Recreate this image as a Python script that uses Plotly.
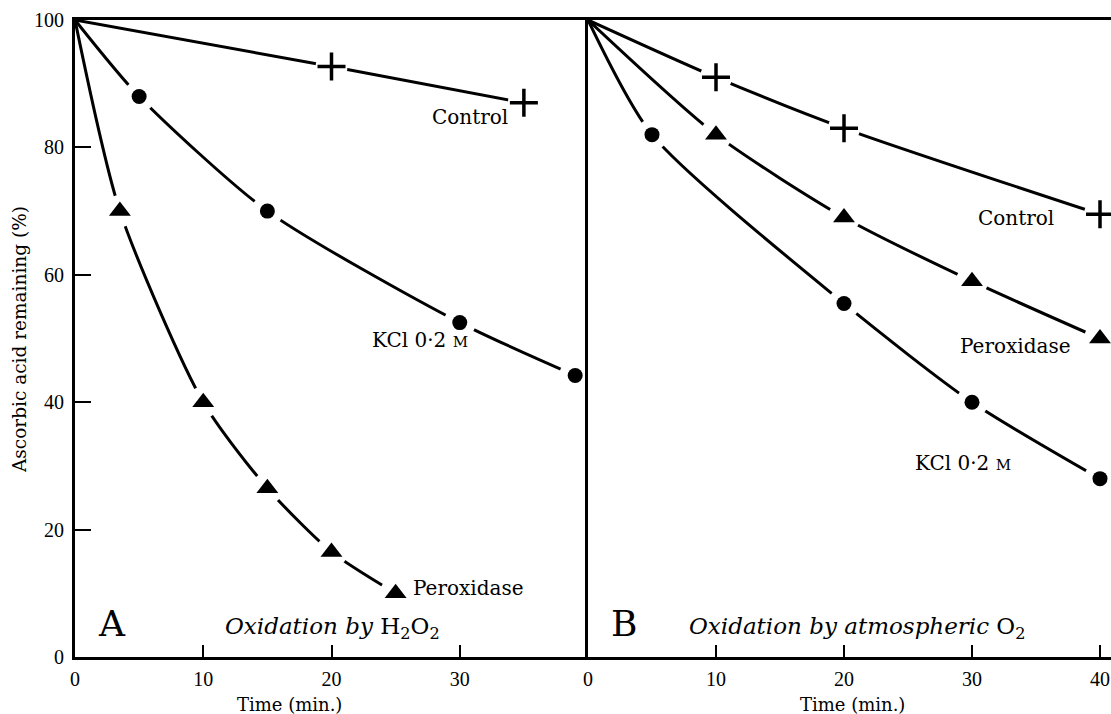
import plotly.graph_objects as go

# ---- Data ----
# Panel A: oxidation by H2O2
a_control_t = [0, 20, 35]
a_control_v = [100, 92.7, 87]
a_kcl_t = [0, 5, 15, 30, 39]
a_kcl_v = [100, 88, 70, 52.5, 44.2]
a_perox_t = [0, 3.5, 10, 15, 20, 25]
a_perox_v = [100, 70, 40, 26.5, 16.5, 10]

# Panel B: oxidation by atmospheric O2
b_control_t = [0, 10, 20, 40]
b_control_v = [100, 91, 83, 69.5]
b_perox_t = [0, 10, 20, 30, 40]
b_perox_v = [100, 82, 69, 59, 50]
b_kcl_t = [0, 5, 20, 30, 40]
b_kcl_v = [100, 82, 55.5, 40, 28]

y_ticks = [0, 20, 40, 60, 80, 100]
a_x_ticks = [0, 10, 20, 30]
b_x_ticks = [0, 10, 20, 30, 40]

SERIF = "DejaVu Serif"
TICKFONT = dict(family="Liberation Serif", size=20, color="black")
LW = 3

fig = go.Figure()

series = [
    ("x", "y", a_control_t, a_control_v, "cross-thin"),
    ("x", "y", a_kcl_t, a_kcl_v, "circle"),
    ("x", "y", a_perox_t, a_perox_v, "triangle-up"),
    ("x2", "y2", b_control_t, b_control_v, "cross-thin"),
    ("x2", "y2", b_perox_t, b_perox_v, "triangle-up"),
    ("x2", "y2", b_kcl_t, b_kcl_v, "circle"),
]

# lines
for xa, ya, t, v, sym in series:
    fig.add_trace(go.Scatter(x=t, y=v, xaxis=xa, yaxis=ya, mode="lines",
                             line=dict(color="black", width=LW, shape="spline", smoothing=0.7),
                             showlegend=False, hoverinfo="skip"))
# white gaps around markers
for xa, ya, t, v, sym in series:
    fig.add_trace(go.Scatter(x=t[1:], y=v[1:], xaxis=xa, yaxis=ya, mode="markers",
                             marker=dict(symbol="circle", size=32, color="white", line=dict(width=0)),
                             showlegend=False, hoverinfo="skip"))
# markers
for xa, ya, t, v, sym in series:
    if sym == "cross-thin":
        mk = dict(symbol="cross-thin", size=20, color="black", line=dict(width=3.5, color="black"))
    elif sym == "circle":
        mk = dict(symbol="circle", size=15, color="black", line=dict(width=0))
    else:
        mk = dict(symbol="triangle-up", size=19, color="black", line=dict(width=0))
    fig.add_trace(go.Scatter(x=t[1:], y=v[1:], xaxis=xa, yaxis=ya, mode="markers",
                             marker=mk, showlegend=False))

W, H = 1111, 714
ml, mr, mt, mb = 75, 0, 20, 57
pw = W - ml - mr
split = 513 / pw

axis_common = dict(showline=True, linecolor="black", linewidth=LW, ticks="inside",
                   tickcolor="black", showgrid=False, zeroline=False, tickfont=TICKFONT)

fig.update_layout(
    width=W, height=H,
    margin=dict(l=ml, r=mr, t=mt, b=mb),
    paper_bgcolor="white", plot_bgcolor="white",
    xaxis=dict(domain=[0, split], range=[0, 40], tickvals=a_x_ticks, ticklen=12, tickwidth=2,
               mirror=True, anchor="y", ticklabelstandoff=2, **axis_common),
    xaxis2=dict(domain=[split, 1], range=[0, 40 * (W - ml - 513) / 512], tickvals=b_x_ticks,
                ticklen=12, tickwidth=2, mirror=True, anchor="y2", ticklabelstandoff=2, **axis_common),
    yaxis=dict(domain=[0, 1], range=[0, 100], tickvals=y_ticks, ticklen=16, tickwidth=2,
               anchor="x", ticklabelstandoff=4, **axis_common),
    yaxis2=dict(domain=[0, 1], range=[0, 100], anchor="x2", showline=True, linecolor="black",
                linewidth=LW, ticks="", showticklabels=False, showgrid=False, zeroline=False),
)

LAB = dict(family=SERIF, size=20, color="black")
M = "<span style='font-size:15px'>M</span>"
ann = [
    dict(x=30.8, y=84.8, xref="x", yref="y", text="Control", font=LAB),
    dict(x=26.9, y=49.8, xref="x", yref="y", text="KCl 0·2 " + M, font=LAB),
    dict(x=26.2, y=10.8, xref="x", yref="y", text="Peroxidase", font=LAB, xanchor="left"),
    dict(x=2.9, y=5.2, xref="x", yref="y", text="A", font=dict(family=SERIF, size=36, color="black")),
    dict(x=20.1, y=4.6, xref="x", yref="y",
         text="<i>Oxidation by</i> H<sub>2</sub>O<sub>2</sub>",
         font=dict(family=SERIF, size=23, color="black")),
    dict(x=33.4, y=68.9, xref="x2", yref="y2", text="Control", font=LAB),
    dict(x=33.4, y=48.8, xref="x2", yref="y2", text="Peroxidase", font=LAB),
    dict(x=29.3, y=30.5, xref="x2", yref="y2", text="KCl 0·2 " + M, font=LAB),
    dict(x=2.8, y=5.2, xref="x2", yref="y2", text="B", font=dict(family=SERIF, size=36, color="black")),
    dict(x=21.0, y=4.6, xref="x2", yref="y2",
         text="<i>Oxidation by atmospheric</i> O<sub>2</sub>",
         font=dict(family=SERIF, size=23, color="black")),
    dict(x=16.7, y=(657 - 704) / 637, xref="x", yref="paper", text="Time (min.)",
         font=dict(family=SERIF, size=18, color="black")),
    dict(x=20.7, y=(657 - 704) / 637, xref="x2", yref="paper", text="Time (min.)",
         font=dict(family=SERIF, size=18, color="black")),
    dict(x=(19 - ml) / pw, y=(657 - 340) / 637, xref="paper", yref="paper",
         text="Ascorbic acid remaining (%)", textangle=-90,
         font=dict(family=SERIF, size=18.5, color="black")),
]
for a in ann:
    a.setdefault("showarrow", False)
    a.setdefault("xanchor", "center")
    a["yanchor"] = "middle"
fig.update_layout(annotations=ann)

fig.write_html("out.html", config={"displayModeBar": False},
               post_script="document.body.style.margin='0';document.body.style.overflow='hidden';")
